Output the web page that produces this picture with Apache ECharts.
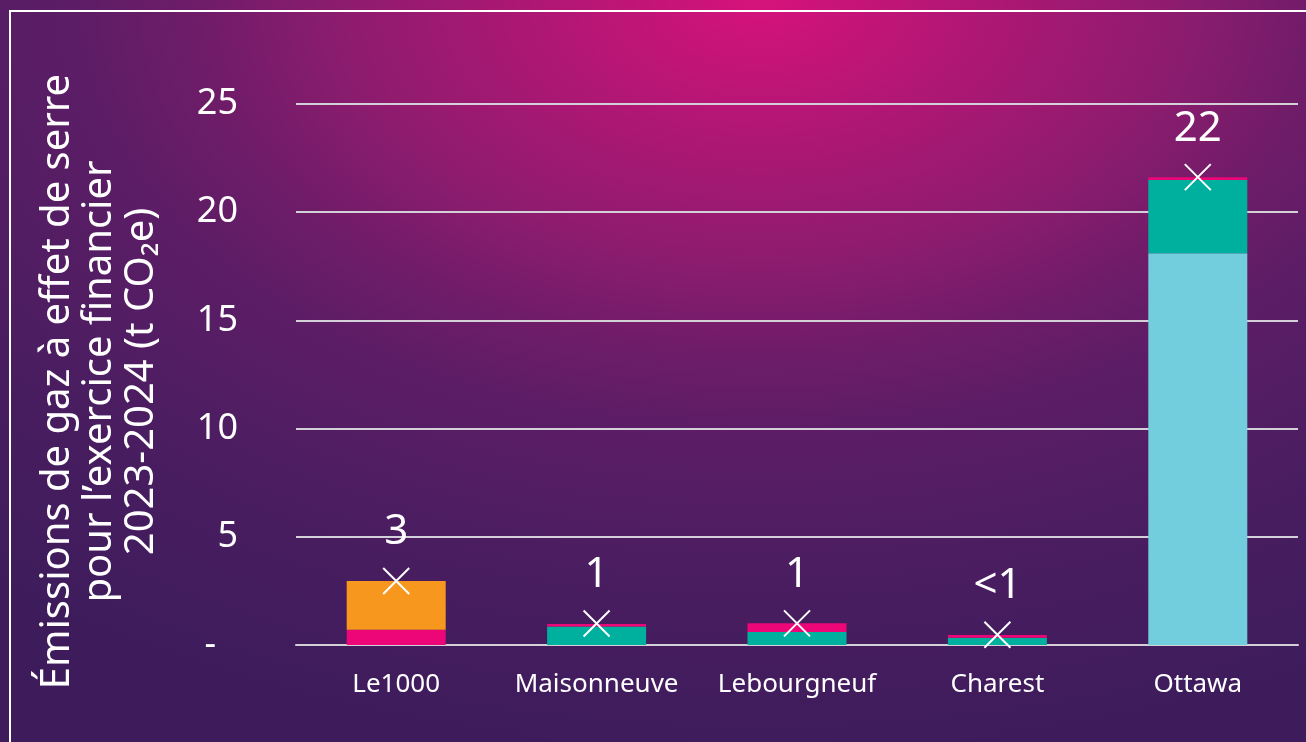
<!DOCTYPE html>
<html>
<head>
<meta charset="utf-8">
<script src="https://cdn.jsdelivr.net/npm/echarts@6/dist/echarts.min.js"></script>
<style>
  html, body { margin: 0; padding: 0; background: #3E1C5C; }
  #chart { width: 1306px; height: 742px; }
</style>
</head>
<body>
<div id="chart"></div>
<script>
const categories = ['Le1000', 'Maisonneuve', 'Lebourgneuf', 'Charest', 'Ottawa'];
const lightBlueValues = [0, 0, 0, 0, 18.1];
const tealValues = [0, 0.85, 0.6, 0.34, 3.39];
const pinkValues = [0.7, 0.12, 0.4, 0.12, 0.12];
const orangeValues = [2.26, 0, 0, 0, 0];
const totalValues = [2.96, 0.99, 1.0, 0.47, 21.62];
const totalLabels = ['3', '1', '1', '<1', '22'];
const yTicks = [0, 5, 10, 15, 20, 25];

const FONT = 'Noto Sans';
const chart = echarts.init(document.getElementById('chart'), null, { renderer: 'canvas' });

function barSeries(name, data, color) {
  return {
    name: name, type: 'bar', stack: 'total', data: data,
    barWidth: 99,
    itemStyle: { color: color },
    z: 3
  };
}

const option = {
  backgroundColor: '#3E1C5C',
  animation: false,
  graphic: [
    {
      type: 'rect', z: -10, silent: true,
      x: 760, y: 0, scaleX: 1.6, scaleY: 1,
      shape: { x: -500, y: -10, width: 1000, height: 800 },
      style: {
        fill: {
          type: 'radial', x: 0.5, y: 0.0125, r: 0.94,
          colorStops: [
            { offset: 0, color: '#D6127B' },
            { offset: 0.36, color: '#8A1C6E' },
            { offset: 0.47, color: '#6E1C68' },
            { offset: 0.58, color: '#5B1D66' },
            { offset: 0.8, color: '#481D60' },
            { offset: 1, color: '#3E1C5C' }
          ]
        }
      }
    },
    {
      type: 'rect', z: 100, silent: true,
      shape: { x: 10, y: 11, width: 1400, height: 800 },
      style: { fill: 'none', stroke: '#ffffff', lineWidth: 2 }
    }
  ],
  grid: { left: 296, right: 8, top: 104, bottom: 97, containLabel: false, outerBoundsMode: 'none' },
  xAxis: {
    type: 'category',
    data: categories,
    axisLine: { show: true, lineStyle: { color: '#D4D0D8', width: 2 } },
    axisTick: { show: false },
    axisLabel: { color: '#ffffff', fontSize: 26, fontFamily: FONT, margin: 27, interval: 0, hideOverlap: false }
  },
  yAxis: {
    type: 'value',
    min: yTicks[0], max: yTicks[yTicks.length - 1], interval: 5,
    name: 'Émissions de gaz à effet de serre\npour l\u2019exercice financier\n2023-2024 (t CO\u2082e)',
    nameLocation: 'middle',
    nameRotate: 90,
    nameGap: 133,
    nameTextStyle: { color: '#ffffff', fontSize: 40, fontFamily: FONT, lineHeight: 42, align: 'center', padding: [0, 14, 0, 0] },
    axisLine: { show: false },
    axisTick: { show: false },
    splitLine: { show: true, lineStyle: { color: '#D4D0D8', width: 2 } },
    axisLabel: {
      color: '#ffffff', fontSize: 36, fontFamily: FONT, margin: 58,
      formatter: function (v) { return v === 0 ? '{d|-}' : String(v); },
      rich: { d: { color: '#ffffff', fontSize: 36, fontFamily: FONT, padding: [0, 22, 0, 0] } }
    }
  },
  series: [
    barSeries('Bleu', lightBlueValues, '#72CDDC'),
    barSeries('Vert', tealValues, '#00B09F'),
    barSeries('Rose', pinkValues, '#EC0677'),
    barSeries('Orange', orangeValues, '#F7971E'),
    {
      name: 'Total', type: 'scatter', data: totalValues,
      symbol: 'path://M0,0L10,10M10,0L0,10',
      symbolSize: 26,
      itemStyle: { color: 'none', borderColor: '#ffffff', borderWidth: 2, opacity: 1 },
      label: {
        show: true, position: 'top', distance: 12,
        color: '#ffffff', fontSize: 42, fontFamily: FONT,
        formatter: function (p) { return totalLabels[p.dataIndex]; }
      },
      z: 5
    }
  ]
};
chart.setOption(option);
</script>
</body>
</html>
